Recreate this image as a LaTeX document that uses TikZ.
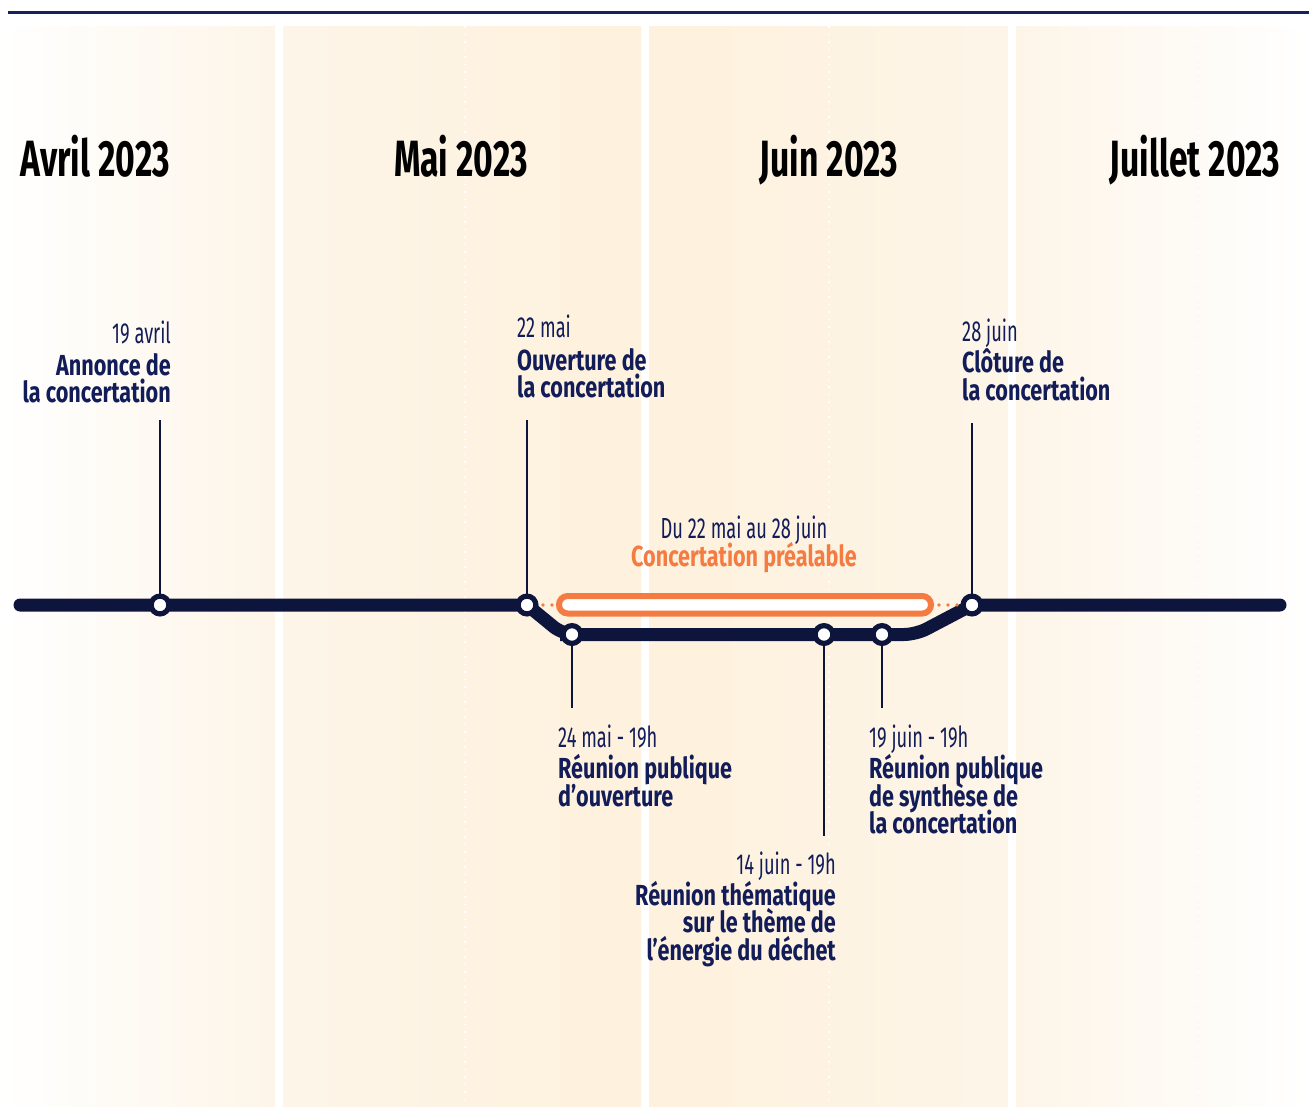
\documentclass[tikz,border=0pt]{standalone}
\usepackage{fontspec}
\setmainfont{Fira Sans}[FakeStretch=0.66]
\newfontfamily\datefont{Fira Sans}[FakeStretch=0.63]
\newfontfamily\titlefont{Fira Sans}[FakeStretch=0.745]
\definecolor{navyline}{RGB}{14,21,60}
\definecolor{navytext}{RGB}{18,28,88}
\definecolor{rulecol}{RGB}{22,34,92}
\definecolor{orangec}{RGB}{244,124,66}
\definecolor{peachA}{RGB}{253,245,232}
\definecolor{peachB}{RGB}{254,241,221}
\begin{document}
\begin{tikzpicture}[x=1pt,y=-1pt,
  month/.style={font=\fontsize{51}{51}\selectfont\bfseries, text=black, inner sep=0pt, anchor=base},
  datetxt/.style={font=\datefont\fontsize{29}{29}\selectfont, text=navytext, inner sep=0pt},
  titletxt/.style={font=\titlefont\fontsize{29}{29}\selectfont\bfseries, text=navytext, inner sep=0pt},
  station/.style={circle, minimum size=17.8pt, inner sep=0pt, draw=navyline, line width=5.2pt, fill=white},
  tick/.style={draw=navyline, line width=2.2pt},
  mainline/.style={draw=navyline, line width=13pt, line cap=round},
  guide/.style={draw=white, line width=1.5pt, dash pattern=on 1.5pt off 6pt},
  orangedots/.style={draw=orangec, line width=3.6pt, line cap=round, dash pattern=on 0pt off 9pt}]
\useasboundingbox (0,0) rectangle (1309,1106);

% month columns
\shade[left color=white, right color=peachA] (0,26) rectangle (275,1106);
\shade[left color=peachA, right color=peachB] (283,26) rectangle (641,1106);
\shade[left color=peachB, right color=peachA] (649,26) rectangle (1008,1106);
\shade[left color=peachA, right color=white] (1016,26) rectangle (1309,1106);
\foreach \gx in {93,465,829,1198}
  \draw[guide] (\gx,26) -- (\gx,1106);

% top rule
\draw[rulecol, line width=3pt] (8,12) -- (1309,12);

% month headings
\node[month] (mavr) at (95,176) {Avril 2023};
\node[month] (mmai) at (461,176) {Mai 2023};
\node[month] (mjuin) at (829,176) {Juin 2023};
\node[month] (mjuil) at (1195,176) {Juillet 2023};

% stations
\coordinate (s19avr) at (160,605);
\coordinate (s22mai) at (527,605);
\coordinate (s24mai) at (572,634.5);
\coordinate (s14juin) at (824,634.5);
\coordinate (s19juin) at (882,634.5);
\coordinate (s28juin) at (972,605);
\coordinate (lineA) at (20,605);
\coordinate (lineB) at (1280,605);

% ticks to the labels
\coordinate (t19avr) at (160,420);
\coordinate (t22mai) at (527,420);
\coordinate (t28juin) at (972,423);
\coordinate (t24mai) at (572,708);
\coordinate (t14juin) at (824,836);
\coordinate (t19juin) at (882,708);
\draw[tick] (s19avr) -- (t19avr);
\draw[tick] (s22mai) -- (t22mai);
\draw[tick] (s28juin) -- (t28juin);
\draw[tick] (s24mai) -- (t24mai);
\draw[tick] (s14juin) -- (t14juin);
\draw[tick] (s19juin) -- (t19juin);

% main line with the branch of the consultation period
\draw[mainline] (lineA) -- (s19avr) -- (s22mai)
  [rounded corners=12pt] -- (563,634.5) -- (s24mai) -- (s14juin) -- (s19juin) -- (916,634.5) -- (s28juin)
  [sharp corners] -- (lineB);

% consultation period bar
\draw[orangec, line width=6pt, fill=white, rounded corners=8.7pt] (559,596) rectangle (931,613.5);
\draw[orangedots] (543,605) -- (555,605);
\draw[orangedots] (939,605) -- (958,605);

% station markers
\foreach \s in {s19avr,s22mai,s24mai,s14juin,s19juin,s28juin}
  \node[station] (c-\s) at (\s) {};

% labels above the line
\node[datetxt, anchor=base east] (d19avr) at (171,343) {19 avril};
\node[titletxt, anchor=base east] (a19avr) at (171,375) {Annonce de};
\node[titletxt, anchor=base east] (b19avr) at (171,402) {la concertation};

\node[datetxt, anchor=base west] (d22mai) at (517,337) {22 mai};
\node[titletxt, anchor=base west] (a22mai) at (517,370) {Ouverture de};
\node[titletxt, anchor=base west] (b22mai) at (517,397) {la concertation};

\node[datetxt, anchor=base west] (d28juin) at (962,341) {28 juin};
\node[titletxt, anchor=base west] (a28juin) at (962,372) {Clôture de};
\node[titletxt, anchor=base west] (b28juin) at (962,400) {la concertation};

\node[datetxt, anchor=base] (dperiod) at (744,538) {Du 22 mai au 28 juin};
\node[titletxt, anchor=base, text=orangec] (aperiod) at (744,566) {Concertation préalable};

% labels below the line
\node[datetxt, anchor=base west] (d24mai) at (558,747) {24 mai - 19h};
\node[titletxt, anchor=base west] (a24mai) at (558,778) {Réunion publique};
\node[titletxt, anchor=base west] (b24mai) at (558,806) {d’ouverture};

\node[datetxt, anchor=base east] (d14juin) at (836,874) {14 juin - 19h};
\node[titletxt, anchor=base east] (a14juin) at (836,905) {Réunion thématique};
\node[titletxt, anchor=base east] (b14juin) at (836,932) {sur le thème de};
\node[titletxt, anchor=base east] (e14juin) at (836,960) {l’énergie du déchet};

\node[datetxt, anchor=base west] (d19juin) at (869,747) {19 juin - 19h};
\node[titletxt, anchor=base west] (a19juin) at (869,778) {Réunion publique};
\node[titletxt, anchor=base west] (b19juin) at (869,806) {de synthèse de};
\node[titletxt, anchor=base west] (e19juin) at (869,833) {la concertation};
\end{tikzpicture}
\end{document}
